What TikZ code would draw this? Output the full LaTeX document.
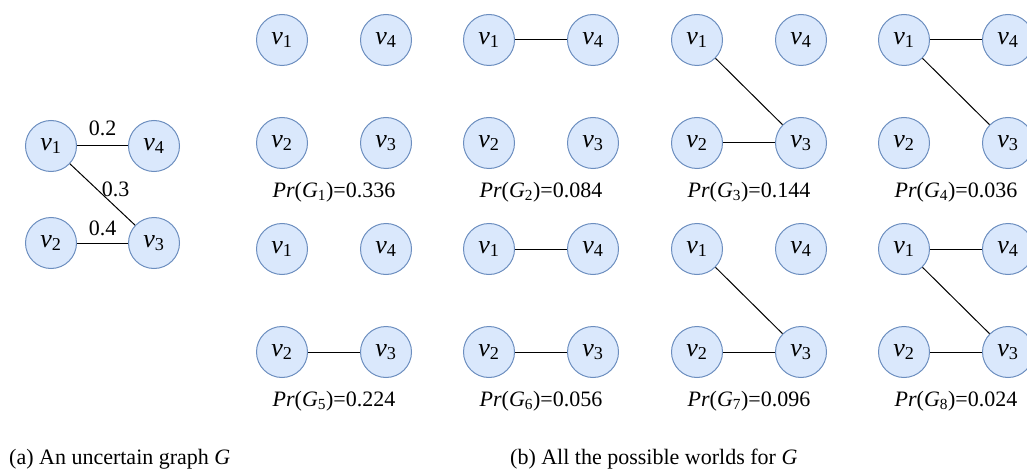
\documentclass[tikz,border=0pt]{standalone}
\usepackage{fontspec}
\setmainfont{Liberation Serif}
\usepackage{xcolor}
\usepackage{tikz}
\definecolor{vfill}{RGB}{218,232,252}
\definecolor{vline}{RGB}{108,142,191}
\newcommand{\vx}[1]{\textit{v}\textsubscript{#1}}
\newcommand{\prw}[2]{\textit{Pr}(\textit{G}\textsubscript{#1})=#2}

\begin{document}
\begin{tikzpicture}[
        x=1pt, y=-1pt,
        vert/.style={circle, draw=vline, fill=vfill, line width=1pt,
                     minimum size=51pt, inner sep=0pt,
                     font=\fontsize{26}{28}\selectfont},
        edge/.style={line width=1pt, black},
        lbl/.style={font=\fontsize{22}{26}\selectfont, inner sep=1pt},
        captext/.style={font=\fontsize{22}{26}\selectfont, inner sep=1pt}
      ]
      \useasboundingbox (0,0) rectangle (1027,473);

      % (a) the uncertain graph
      \node[vert] (v1) at (51,146)  {\vx{1}};
      \node[vert] (v4) at (154,146) {\vx{4}};
      \node[vert] (v2) at (51,243)  {\vx{2}};
      \node[vert] (v3) at (154,243) {\vx{3}};
      \draw[edge] (v1) -- node[lbl, above=9pt] {0.2} (v4);
      \draw[edge] (v1) -- node[lbl, pos=0.42, right=3pt] {0.3} (v3);
      \draw[edge] (v2) -- node[lbl, above=6pt] {0.4} (v3);

      % (b) possible worlds
      \foreach \w/\cx/\cy/\p in {1/282/40/0.336, 2/489/40/0.084, 3/697/40/0.144, 4/904/40/0.036,
                                 5/282/249/0.224, 6/489/249/0.056, 7/697/249/0.096, 8/904/249/0.024} {
        \node[vert] (w\w v1) at (\cx,\cy) {\vx{1}};
        \node[vert] (w\w v4) at (\cx+104,\cy) {\vx{4}};
        \node[vert] (w\w v2) at (\cx,\cy+103) {\vx{2}};
        \node[vert] (w\w v3) at (\cx+104,\cy+103) {\vx{3}};
        \node[lbl] (p\w) at (\cx+52,\cy+152) {\prw{\w}{\p}};
      }
      \draw[edge] (w2v1) -- (w2v4);
      \draw[edge] (w3v1) -- (w3v3);
      \draw[edge] (w3v2) -- (w3v3);
      \draw[edge] (w4v1) -- (w4v4);
      \draw[edge] (w4v1) -- (w4v3);
      \draw[edge] (w5v2) -- (w5v3);
      \draw[edge] (w6v1) -- (w6v4);
      \draw[edge] (w6v2) -- (w6v3);
      \draw[edge] (w7v1) -- (w7v3);
      \draw[edge] (w7v2) -- (w7v3);
      \draw[edge] (w8v1) -- (w8v4);
      \draw[edge] (w8v1) -- (w8v3);
      \draw[edge] (w8v2) -- (w8v3);

      % captions
      \node[captext, anchor=west] (capa) at (8,459) {(a) An uncertain graph \textit{G}};
      \node[captext, anchor=west] (capb) at (509,459) {(b) All the possible worlds for \textit{G}};
    \end{tikzpicture}
\end{document}
